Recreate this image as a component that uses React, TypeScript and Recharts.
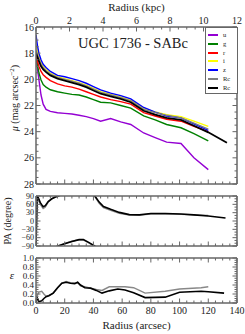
import { Line, LineChart, XAxis, YAxis } from "recharts";

const FONT = "'Liberation Serif', 'DejaVu Serif', serif";
const FRAME = "#666";

// surface brightness profiles (mag arcsec^-2) vs radius (arcsec)
const radius = [0, 1, 2, 3.5, 5, 7, 10, 15, 20, 25, 30, 35, 40, 45, 52, 59, 66, 75, 83, 91, 101, 110, 120, 133];
const muU = [18.3, 19.2, 20.0, 21.2, 21.9, 22.3, 22.45, 22.55, 22.6, 22.65, 22.75, 22.85, 23.0, 23.2, 23.0, 23.25, 23.45, 24.1, 24.45, 24.8, 24.9, 26.0, 26.9];
const muG = [18.2, 18.9, 19.5, 20.05, 20.4, 20.6, 20.8, 20.95, 21.05, 21.15, 21.2, 21.35, 21.55, 21.75, 21.8, 22.0, 22.2, 22.8, 23.1, 23.45, 23.7, 24.15, 24.7];
const muR = [18.1, 18.6, 19.0, 19.4, 19.65, 19.85, 20.1, 20.35, 20.5, 20.6, 20.75, 20.95, 21.15, 21.35, 21.55, 21.7, 21.9, 22.55, 22.8, 23.05, 23.2, 23.6, 24.0];
const muI = [17.4, 17.8, 18.2, 18.7, 19.0, 19.25, 19.55, 19.8, 19.95, 20.1, 20.25, 20.45, 20.7, 20.95, 21.15, 21.35, 21.6, 22.2, 22.5, 22.7, 22.85, 23.2, 23.6];
const muZ = [16.6, 17.4, 18.0, 18.5, 18.85, 19.1, 19.4, 19.7, 19.8, 19.95, 20.1, 20.3, 20.55, 20.8, 21.05, 21.25, 21.5, 22.15, 22.5, 22.8, 22.95, 23.4, 23.9];
const muRcGray = [17.8, 18.1, 18.4, 18.85, 19.1, 19.35, 19.6, 19.85, 20.0, 20.15, 20.3, 20.5, 20.75, 21.0, 21.2, 21.4, 21.65, 22.3, 22.55, 22.75, 22.95, 23.35, 23.8];
const muRcBlack = [18.0, 18.3, 18.6, 19.0, 19.25, 19.45, 19.7, 19.95, 20.1, 20.25, 20.4, 20.6, 20.85, 21.1, 21.3, 21.5, 21.75, 22.4, 22.7, 22.95, 23.1, 23.55, 24.05, 24.85];

// position angle (degree)
const paRadius = [0, 0.8, 1.6, 3, 5, 6.5, 8.5, 11, 13.5, 16, 20, 25, 30, 33, 37, 41, 44, 47, 52, 58, 65, 72, 80, 90, 101, 110, 120, 132];
const paBlack = [-88, 88, 84, 66, 51, 55, 70, 80, 86, 91, 98, 106, 113, 113, 102, 90, 68, 52, 42, 31, 23, 22, 27, 27, 25, 22, 18, 11];
const paGray = [-88, 85, 78, 60, 45, 50, 68, 80, 86, 92, 99, 107, 113, 112, 100, 88, 64, 48, 38, 28, 21, 21, 25, 26, 24, 22, 20, null];

// ellipticity
const epsRadius = [0, 1, 2, 4, 5.5, 7, 9, 12, 15, 18, 21, 24, 27, 29, 31, 34, 38, 42, 46, 51, 57, 62, 68, 76, 90, 100, 115, 120, 131];
const epsBlack = [0.02, 0.1, 0.03, 0.05, 0.1, 0.14, 0.16, 0.22, 0.34, 0.44, 0.46, 0.44, 0.43, 0.46, 0.4, 0.34, 0.33, 0.28, 0.22, 0.27, 0.31, 0.29, 0.23, 0.12, 0.13, 0.24, 0.26, 0.25, 0.22];
const epsGray = [0.05, 0.18, 0.24, 0.26, 0.2, 0.15, 0.17, 0.22, 0.33, 0.44, 0.48, 0.45, 0.44, 0.46, 0.38, 0.36, 0.33, 0.3, 0.28, 0.36, 0.36, 0.36, 0.34, 0.22, 0.26, 0.31, 0.34, 0.36, null];

// ticks
const ARCSEC_PER_KPC = 140 / 12;
const arcMajor = [0, 20, 40, 60, 80, 100, 120, 140];
const kpcMajor = [0, 2, 4, 6, 8, 10, 12];
const muMajor = [16, 18, 20, 22, 24, 26, 28];
const paMajor = [-90, -60, -30, 0, 30, 60, 90];
const epsMajor = [0, 0.2, 0.4, 0.6, 0.8, 1.0];

const bands = [
  { key: "u", label: "u", color: "#9400d3" },
  { key: "g", label: "g", color: "#008000" },
  { key: "r_", label: "r", color: "#ff0000" },
  { key: "i", label: "i", color: "#ffff00" },
  { key: "z", label: "z", color: "#0000ff" },
  { key: "rcGray", label: "Rc", color: "#808080" },
  { key: "rcBlack", label: "Rc", color: "#000000" },
];

const profileData = radius.map((r, i) => ({
  r,
  u: muU[i],
  g: muG[i],
  r_: muR[i],
  i: muI[i],
  z: muZ[i],
  rcGray: muRcGray[i],
  rcBlack: muRcBlack[i],
}));

// PA wraps at +-90: the shifted copy shows the part above 90 at the bottom
const paData = paRadius.map((r, i) => ({
  r,
  black: paBlack[i],
  blackWrap: paBlack[i] - 180,
  gray: paGray[i],
  grayWrap: paGray[i] == null ? null : (paGray[i] as number) - 180,
}));

const epsData = epsRadius.map((r, i) => ({ r, black: epsBlack[i], gray: epsGray[i] }));

const range = (a: number, b: number, step: number) => {
  const out: number[] = [];
  for (let v = a; v <= b + 1e-9; v += step) out.push(Math.round(v * 1000) / 1000);
  return out;
};

const minus = (v: number) => (v < 0 ? `\u2212${Math.abs(v)}` : String(v));

type Side = "left" | "right" | "top" | "bottom";

const makeTick =
  (side: Side, majors: number[], labels: boolean, fontSize = 10, fmt: (v: number) => string = String) =>
  (props: any) => {
    const { x, y, payload } = props;
    const v = payload.value as number;
    const major = majors.some((m) => Math.abs(m - v) < 1e-6);
    const len = major ? 4.5 : 2.5;
    let line;
    let text = null;
    const tp = { fontFamily: FONT, fontSize, fill: "#222" };
    if (side === "bottom") {
      line = <line x1={x} y1={y} x2={x} y2={y - len} />;
      if (labels && major) text = <text x={x} y={y + fontSize + 1} textAnchor="middle" {...tp}>{fmt(v)}</text>;
    } else if (side === "top") {
      line = <line x1={x} y1={y} x2={x} y2={y + len} />;
      if (labels && major) text = <text x={x} y={y - 3} textAnchor="middle" {...tp}>{fmt(v)}</text>;
    } else if (side === "left") {
      line = <line x1={x} y1={y} x2={x + len} y2={y} />;
      if (labels && major) text = <text x={x - 2} y={y + fontSize * 0.35} textAnchor="end" {...tp}>{fmt(v)}</text>;
    } else {
      line = <line x1={x} y1={y} x2={x - len} y2={y} />;
    }
    return (
      <g>
        <g stroke={FRAME} strokeWidth={1}>{line}</g>
        {text}
      </g>
    );
  };

const axisLine = { stroke: FRAME, strokeWidth: 1.5 };
const common = { tickSize: 0, tickMargin: 0, tickLine: false, interval: 0 as const, axisLine, allowDataOverflow: true };

const arcTicks = range(0, 140, 5);
// kpc ticks placed on the arcsec scale
const kpcTicks = range(0, 12, 0.5).map((k) => k * ARCSEC_PER_KPC);
const kpcMajorArc = kpcMajor.map((k) => k * ARCSEC_PER_KPC);
const kpcFmt = (v: number) => String(Math.round(v / ARCSEC_PER_KPC));

const abs = (left: number, top: number): React.CSSProperties => ({ position: "absolute", left, top });

export default function App() {
  return (
    <div style={{ position: "absolute", left: 0, top: 0, width: 245, height: 334, background: "#fff", fontFamily: FONT, color: "#222", overflow: "hidden" }}>
      {/* surface brightness */}
      <div style={abs(0, 0)}>
        <LineChart width={245} height={190} data={profileData} margin={{ top: 26, right: 7, bottom: 5, left: 35 }}>
          <XAxis xAxisId="b" dataKey="r" type="number" domain={[0, 140]} ticks={arcTicks} height={1} tick={makeTick("bottom", arcMajor, false)} {...common} />
          <XAxis xAxisId="t" dataKey="r" orientation="top" type="number" domain={[0, 140]} ticks={kpcTicks} height={1} tick={makeTick("top", kpcMajorArc, true, 10, kpcFmt)} {...common} />
          <YAxis yAxisId="l" type="number" domain={[16, 28]} reversed ticks={range(16, 28, 0.5)} width={1} tick={makeTick("left", muMajor, true)} {...common} />
          <YAxis yAxisId="rt" orientation="right" type="number" domain={[16, 28]} reversed ticks={range(16, 28, 0.5)} width={1} tick={makeTick("right", muMajor, false)} {...common} />
          {bands.map((b) => (
            <Line
              key={b.key}
              xAxisId="b"
              yAxisId="l"
              dataKey={b.key}
              stroke={b.color}
              strokeWidth={b.key === "rcBlack" ? 1.8 : 1.4}
              dot={false}
              isAnimationActive={false}
            />
          ))}
        </LineChart>
      </div>

      {/* position angle */}
      <div style={abs(0, 190)}>
        <LineChart width={245} height={62} data={paData} margin={{ top: 5, right: 7, bottom: 5, left: 35 }}>
          <XAxis xAxisId="b" dataKey="r" type="number" domain={[0, 140]} ticks={arcTicks} height={1} tick={makeTick("bottom", arcMajor, false)} {...common} />
          <XAxis xAxisId="t" dataKey="r" orientation="top" type="number" domain={[0, 140]} ticks={arcTicks} height={1} tick={makeTick("top", arcMajor, false)} {...common} />
          <YAxis yAxisId="l" type="number" domain={[-90, 90]} ticks={range(-90, 90, 10)} width={1} tick={makeTick("left", paMajor, true, 8, minus)} {...common} />
          <YAxis yAxisId="rt" orientation="right" type="number" domain={[-90, 90]} ticks={range(-90, 90, 10)} width={1} tick={makeTick("right", paMajor, false)} {...common} />
          <Line xAxisId="b" yAxisId="l" dataKey="gray" stroke="#888" strokeWidth={1.4} dot={false} isAnimationActive={false} />
          <Line xAxisId="b" yAxisId="l" dataKey="grayWrap" stroke="#888" strokeWidth={1.4} dot={false} isAnimationActive={false} />
          <Line xAxisId="b" yAxisId="l" dataKey="black" stroke="#000" strokeWidth={1.6} dot={false} isAnimationActive={false} />
          <Line xAxisId="b" yAxisId="l" dataKey="blackWrap" stroke="#000" strokeWidth={1.6} dot={false} isAnimationActive={false} />
        </LineChart>
      </div>

      {/* ellipticity */}
      <div style={abs(0, 252)}>
        <LineChart width={245} height={82} data={epsData} margin={{ top: 5, right: 7, bottom: 30, left: 35 }}>
          <XAxis xAxisId="b" dataKey="r" type="number" domain={[0, 140]} ticks={arcTicks} height={1} tick={makeTick("bottom", arcMajor, true)} {...common} />
          <XAxis xAxisId="t" dataKey="r" orientation="top" type="number" domain={[0, 140]} ticks={arcTicks} height={1} tick={makeTick("top", arcMajor, false)} {...common} />
          <YAxis yAxisId="l" type="number" domain={[0, 1]} ticks={range(0, 1, 0.05)} width={1} tick={makeTick("left", epsMajor, true, 9, (v) => v.toFixed(1))} {...common} />
          <YAxis yAxisId="rt" orientation="right" type="number" domain={[0, 1]} ticks={range(0, 1, 0.05)} width={1} tick={makeTick("right", epsMajor, false)} {...common} />
          <Line xAxisId="b" yAxisId="l" dataKey="gray" stroke="#888" strokeWidth={1.4} dot={false} isAnimationActive={false} />
          <Line xAxisId="b" yAxisId="l" dataKey="black" stroke="#000" strokeWidth={1.6} dot={false} isAnimationActive={false} />
        </LineChart>
      </div>

      {/* texts */}
      <div style={{ position: "absolute", left: 0, width: 273, top: 0, textAlign: "center", fontSize: 11, lineHeight: "14px" }}>Radius (kpc)</div>
      <div style={{ position: "absolute", left: 0, width: 266, top: 34, textAlign: "center", fontSize: 14.5, lineHeight: "18px" }}>UGC 1736 - SABc</div>
      <div style={{ position: "absolute", left: 0, width: 273, top: 318, textAlign: "center", fontSize: 11, lineHeight: "14px" }}>Radius (arcsec)</div>
      <div style={{ position: "absolute", left: 14, top: 98, transform: "translate(-50%, -50%) rotate(-90deg)", whiteSpace: "nowrap", fontSize: 10 }}>
        <i>μ</i> (mag arcsec<sup style={{ fontSize: 7 }}>−2</sup>)
      </div>
      <div style={{ position: "absolute", left: 7, top: 221, transform: "translate(-50%, -50%) rotate(-90deg)", whiteSpace: "nowrap", fontSize: 10 }}>PA (degree)</div>
      <div style={{ position: "absolute", left: 12, top: 275, transform: "translate(-50%, -50%)", fontSize: 11, fontStyle: "italic" }}>ε</div>

      {/* legend */}
      <div style={{ position: "absolute", left: 205, top: 27, width: 31, height: 65, border: `1.5px solid ${FRAME}`, background: "#fff" }}>
        {bands.map((b, i) => (
          <div key={b.key} style={{ position: "absolute", left: 2, top: 3 + i * 8.8, height: 8, display: "flex", alignItems: "center" }}>
            <span style={{ display: "inline-block", width: 10, height: 2, background: b.color }} />
            <span style={{ marginLeft: 5, fontSize: 6.5, lineHeight: "8px" }}>{b.label}</span>
          </div>
        ))}
      </div>
    </div>
  );
}
